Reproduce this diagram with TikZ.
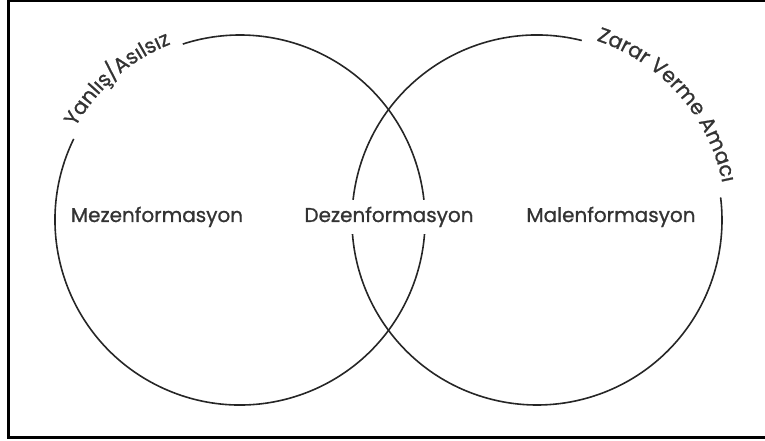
\documentclass[tikz,border=0pt]{standalone}
\usepackage{fontspec}
\newfontfamily\vennfont[FakeBold=0.9]{Poppins}
\usetikzlibrary{decorations.text}

\begin{document}
\begin{tikzpicture}[x=1pt, y=1pt,
			ring/.style={line width=1.6pt, draw=black!85},
			label/.style={font=\vennfont\fontsize{20}{22}\selectfont, text=black!80, anchor=base, inner sep=2pt},
			arclabel/.style={decorate, decoration={text along path, text align=center, text color=black!80}}
		]
		\useasboundingbox (0,0) rectangle (765,441);
		\draw[line width=2.6pt] (766,440) -- (8.5,440) -- (8.5,3.6) -- (766,3.6);
		\coordinate (leftc) at (240,221);
		\coordinate (rightc) at (537,221);
		\draw[ring] (leftc) ++(154:185) arc[start angle=154, end angle=468, radius=185];
		\draw[ring] (rightc) ++(76:185) arc[start angle=76, end angle=367, radius=185];
		\path[arclabel, decoration={text={|\vennfont\fontsize{20.5}{22}\selectfont|Yanlış/Asılsız}}]
			(leftc) ++(160:189) arc[start angle=160, end angle=102, radius=189];
		\path[arclabel, decoration={text={|\vennfont\fontsize{20.5}{22}\selectfont|Zarar Verme Amacı}}]
			(rightc) ++(82:189) arc[start angle=82, end angle=1, radius=189];
		\node[label] (mezen) at (157,219) {Mezenformasyon};
		\node[label, fill=white, inner ysep=7pt] (dezen) at (389,219) {Dezenformasyon};
		\node[label] (malen) at (611,219) {Malenformasyon};
\end{tikzpicture}
\end{document}
